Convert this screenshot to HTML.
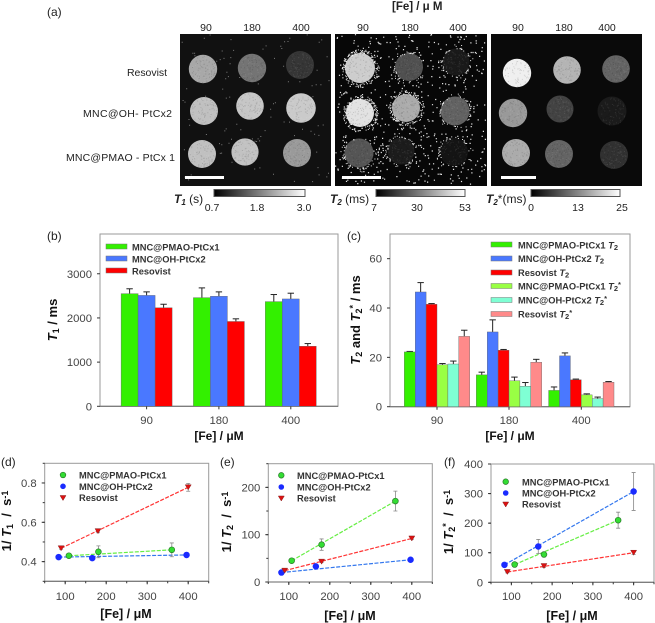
<!DOCTYPE html>
<html lang="en">
<head>
<meta charset="utf-8">
<title>MRI relaxation figure</title>
<style>
html,body{margin:0;padding:0;background:#fff;}
svg{display:block;font-family:"Liberation Sans",sans-serif;}
.lbl{font-size:10.5px;fill:#222;}
.pl{font-size:12px;fill:#222;}
.leg{font-size:9.3px;font-weight:bold;fill:#333;}
.ttl{font-size:13px;font-weight:bold;fill:#111;}
.xt{font-size:12.5px;font-weight:bold;fill:#111;}
.xs{font-size:12px;font-weight:bold;fill:#111;}
.tick{font-size:11.3px;fill:#444;}
</style>
</head>
<body>
<svg id="figure" xmlns="http://www.w3.org/2000/svg" width="655" height="623" viewBox="0 0 655 623">
<defs>
<linearGradient id="gray-ramp" x1="0" x2="1" y1="0" y2="0"><stop offset="0" stop-color="#000"/><stop offset="1" stop-color="#fff"/></linearGradient>
</defs>

<g>
<text class="pl" x="47" y="16">(a)</text>
<text x="392" y="10" font-size="11.5" font-weight="bold" fill="#222">[Fe] / μ M</text>
<text class="lbl" x="206" y="31" text-anchor="middle">90</text>
<text class="lbl" x="252" y="31" text-anchor="middle">180</text>
<text class="lbl" x="301" y="31" text-anchor="middle">400</text>
<text class="lbl" x="363" y="31" text-anchor="middle">90</text>
<text class="lbl" x="410" y="31" text-anchor="middle">180</text>
<text class="lbl" x="458" y="31" text-anchor="middle">400</text>
<text class="lbl" x="518" y="31" text-anchor="middle">90</text>
<text class="lbl" x="564" y="31" text-anchor="middle">180</text>
<text class="lbl" x="607" y="31" text-anchor="middle">400</text>
<text class="lbl" x="127" y="76" textLength="40">Resovist</text>
<text class="lbl" x="83" y="117" textLength="89">MNC@OH- PtCx2</text>
<text class="lbl" x="66" y="161" textLength="109">MNC@PMAO - PtCx 1</text>

<g id="t1-image" data-x="180" data-y="34" data-w="151" data-h="152" data-noise="130" data-op="0.45" data-size="1">
<rect x="180" y="34" width="151" height="152" fill="#111"/>
<circle class="s" cx="203" cy="69" r="14.2" fill="#a8a8a8"/>
<circle class="s" cx="252" cy="68" r="14.2" fill="#747474"/>
<circle class="s" cx="300" cy="65" r="14" fill="#363636"/>
<circle class="s" cx="204" cy="111" r="14" fill="#c0c0c0"/>
<circle class="s" cx="250" cy="106" r="13.8" fill="#c6c6c6"/>
<circle class="s" cx="301" cy="108" r="14.8" fill="#cacaca"/>
<circle class="s" cx="202" cy="154" r="14" fill="#c0c0c0"/>
<circle class="s" cx="245" cy="152" r="13.6" fill="#c2c2c2"/>
<circle class="s" cx="297" cy="153" r="14" fill="#9a9a9a"/>
<rect x="185" y="176" width="39" height="3" fill="#fff"/>
</g>

<g id="t2-image" data-x="335" data-y="34" data-w="152" data-h="152" data-noise="520" data-op="0.9" data-size="1.2">
<rect x="335" y="34" width="152" height="152" fill="#070707"/>
<circle class="s h" cx="360" cy="68" r="15" fill="#cdcdcd"/>
<circle class="s h" cx="409" cy="67" r="14" fill="#505050"/>
<circle class="s h" cx="456" cy="62" r="13.5" fill="#1a1a1a"/>
<circle class="s h" cx="360" cy="113" r="14" fill="#e2e2e2"/>
<circle class="s h" cx="406" cy="108" r="14" fill="#ababab"/>
<circle class="s h" cx="455" cy="111" r="14.5" fill="#626262"/>
<circle class="s h" cx="359" cy="153" r="14.5" fill="#555"/>
<circle class="s h" cx="401" cy="151" r="13.5" fill="#1c1c1c"/>
<circle class="s h" cx="454" cy="152" r="14" fill="#141414"/>
<rect x="342" y="176" width="39" height="3" fill="#fff"/>
</g>

<g id="t2s-image" data-x="491" data-y="34" data-w="151" data-h="152" data-noise="0" data-op="0.3" data-size="1">
<rect x="491" y="34" width="151" height="152" fill="#0a0a0a"/>
<circle class="s" cx="517" cy="73" r="14.2" fill="#efefef"/>
<circle class="s" cx="567" cy="70" r="13.8" fill="#b4b4b4"/>
<circle class="s" cx="616" cy="69" r="13.8" fill="#646464"/>
<circle class="s" cx="513" cy="113" r="14.2" fill="#999"/>
<circle class="s" cx="560" cy="109" r="13.5" fill="#434343"/>
<circle class="s" cx="612" cy="111" r="14.5" fill="#1b1b1b"/>
<circle class="s" cx="516" cy="153" r="14" fill="#ababab"/>
<circle class="s" cx="559" cy="154" r="14" fill="#646464"/>
<circle class="s" cx="614" cy="155" r="14" fill="#313131"/>
<rect x="501" y="176" width="35" height="3" fill="#fff"/>
</g>

<rect x="214" y="189.500" width="91" height="7" fill="url(#gray-ramp)" stroke="#555"/>
<rect x="376" y="189.500" width="89" height="7" fill="url(#gray-ramp)" stroke="#555"/>
<rect x="531" y="189.500" width="89" height="7" fill="url(#gray-ramp)" stroke="#555"/>
<text x="174" y="203" font-size="12" fill="#222"><tspan font-weight="bold" font-style="italic">T</tspan><tspan font-weight="bold" font-style="italic" font-size="8" dy="2">1</tspan><tspan dy="-2"> (s)</tspan></text>
<text class="lbl" x="212" y="211" text-anchor="middle">0.7</text>
<text class="lbl" x="257" y="211" text-anchor="middle">1.8</text>
<text class="lbl" x="304" y="211" text-anchor="middle">3.0</text>
<text x="330" y="203" font-size="12" fill="#222"><tspan font-weight="bold" font-style="italic">T</tspan><tspan font-weight="bold" font-style="italic" font-size="8" dy="2">2</tspan><tspan dy="-2"> (ms)</tspan></text>
<text class="lbl" x="374" y="211" text-anchor="middle">7</text>
<text class="lbl" x="417" y="211" text-anchor="middle">30</text>
<text class="lbl" x="465" y="211" text-anchor="middle">53</text>
<text x="486" y="203" font-size="12" fill="#222"><tspan font-weight="bold" font-style="italic">T</tspan><tspan font-weight="bold" font-style="italic" font-size="8" dy="2">2</tspan><tspan dy="-2">*(ms)</tspan></text>
<text class="lbl" x="531" y="211" text-anchor="middle">0</text>
<text class="lbl" x="578" y="211" text-anchor="middle">13</text>
<text class="lbl" x="622" y="211" text-anchor="middle">25</text>
</g>

<g id="chart-b">
<text class="pl" x="47" y="240">(b)</text>
<text class="ttl" transform="translate(57 320) rotate(-90)" text-anchor="middle"><tspan font-style="italic">T</tspan><tspan font-size="9" dy="2">1</tspan><tspan dy="-2"> / ms</tspan></text>
<text class="xs" x="219" y="440" text-anchor="middle">[Fe] / μM</text>
</g>
<g>
<rect x="106" y="244" width="21" height="5" fill="#33f000" stroke="#777" stroke-width=".5"/>
<text class="leg" x="132" y="250.500">MNC@PMAO-PtCx1</text>
<rect x="106" y="256" width="21" height="5" fill="#4a78ff" stroke="#777" stroke-width=".5"/>
<text class="leg" x="132" y="262.500">MNC@OH-PtCx2</text>
<rect x="106" y="268" width="21" height="5" fill="#ff0000" stroke="#777" stroke-width=".5"/>
<text class="leg" x="132" y="274.500">Resovist</text>
</g>

<g id="chart-c">
<text class="pl" x="347" y="240">(c)</text>
<text class="ttl" transform="translate(360 320) rotate(-90)" text-anchor="middle"><tspan font-style="italic">T</tspan><tspan font-size="9" dy="2">2</tspan><tspan dy="-2"> and </tspan><tspan font-style="italic">T</tspan><tspan font-size="9" dy="2">2</tspan><tspan font-size="9" dy="-6">*</tspan><tspan dy="4"> / ms</tspan></text>
<text class="xs" x="510" y="440" text-anchor="middle">[Fe] / μM</text>
</g>
<g>
<rect x="491" y="242" width="21" height="5" fill="#33f000" stroke="#777" stroke-width=".5"/>
<text class="leg" x="518" y="248.500">MNC@PMAO-PtCx1 <tspan font-style="italic">T</tspan><tspan font-size="7.500" dy="1.500">2</tspan></text>
<rect x="491" y="256" width="21" height="5" fill="#4a78ff" stroke="#777" stroke-width=".5"/>
<text class="leg" x="518" y="262">MNC@OH-PtCx2 <tspan font-style="italic">T</tspan><tspan font-size="7.500" dy="1.500">2</tspan></text>
<rect x="491" y="270" width="21" height="5" fill="#ff0000" stroke="#777" stroke-width=".5"/>
<text class="leg" x="518" y="276">Resovist <tspan font-style="italic">T</tspan><tspan font-size="7.500" dy="1.500">2</tspan></text>
<rect x="491" y="283.500" width="21" height="5" fill="#99ff44" stroke="#777" stroke-width=".5"/>
<text class="leg" x="518" y="289.500">MNC@PMAO-PtCx1 <tspan font-style="italic">T</tspan><tspan font-size="7.500" dy="1.500">2</tspan><tspan font-size="7.500" dy="-4">*</tspan></text>
<rect x="491" y="297.500" width="21" height="5" fill="#7fffd4" stroke="#777" stroke-width=".5"/>
<text class="leg" x="518" y="303.500">MNC@OH-PtCx2 <tspan font-style="italic">T</tspan><tspan font-size="7.500" dy="1.500">2</tspan><tspan font-size="7.500" dy="-4">*</tspan></text>
<rect x="491" y="311.500" width="21" height="5" fill="#ff8a8a" stroke="#777" stroke-width=".5"/>
<text class="leg" x="518" y="317.500">Resovist <tspan font-style="italic">T</tspan><tspan font-size="7.500" dy="1.500">2</tspan><tspan font-size="7.500" dy="-4">*</tspan></text>
</g>

<g id="chart-d">
<text class="pl" x="1" y="466">(d)</text>
<text class="ttl" transform="translate(11 521) rotate(-90)" text-anchor="middle">1/ <tspan font-style="italic">T</tspan><tspan font-size="9" dy="2">1</tspan><tspan dy="-2">&#160;&#160;/&#160;&#160;s</tspan><tspan font-size="9" dy="-3">-1</tspan></text>
<text class="xt" x="126" y="618" text-anchor="middle">[Fe] / μM</text>
</g>
<g id="chart-e">
<text class="pl" x="220" y="466">(e)</text>
<text class="ttl" transform="translate(231 522) rotate(-90)" text-anchor="middle">1/ <tspan font-style="italic">T</tspan><tspan font-size="9" dy="2">2</tspan><tspan dy="-2">&#160;&#160;/&#160;&#160;s</tspan><tspan font-size="9" dy="-3">-1</tspan></text>
<text class="xt" x="350" y="620" text-anchor="middle">[Fe] / μM</text>
</g>
<g id="chart-f">
<text class="pl" x="444" y="466">(f)</text>
<text class="ttl" transform="translate(453 522) rotate(-90)" text-anchor="middle">1/ <tspan font-style="italic">T</tspan><tspan font-size="9" dy="2">2</tspan><tspan font-size="9" dy="-6">*</tspan><tspan dy="4">&#160;&#160;/&#160;&#160;s</tspan><tspan font-size="9" dy="-3">-1</tspan></text>
<text class="xt" x="572" y="620" text-anchor="middle">[Fe] / μM</text>
</g>
<g>
<circle cx="63" cy="475" r="2.800" fill="#33dd33" stroke="#2a7a2a" stroke-width=".7"/>
<text class="leg" x="79" y="478.500">MNC@PMAO-PtCx1</text>
<circle cx="63" cy="486.300" r="2.800" fill="#1a2bff"/>
<text class="leg" x="79" y="490">MNC@OH-PtCx2</text>
<path d="M60 495.500h6l-3 5z" fill="#dd1111" stroke="#882222" stroke-width=".5"/>
<text class="leg" x="79" y="501">Resovist</text>
</g>
<g>
<circle cx="281.300" cy="475.300" r="2.800" fill="#33dd33" stroke="#2a7a2a" stroke-width=".7"/>
<text class="leg" x="297" y="479">MNC@PMAO-PtCx1</text>
<circle cx="281.300" cy="487" r="2.800" fill="#1a2bff"/>
<text class="leg" x="297" y="490.500">MNC@OH-PtCx2</text>
<path d="M278.300 496h6l-3 5z" fill="#dd1111" stroke="#882222" stroke-width=".5"/>
<text class="leg" x="297" y="501.500">Resovist</text>
</g>
<g>
<circle cx="505.700" cy="481.700" r="2.800" fill="#33dd33" stroke="#2a7a2a" stroke-width=".7"/>
<text class="leg" x="522" y="485.500">MNC@PMAO-PtCx1</text>
<circle cx="505.700" cy="493" r="2.800" fill="#1a2bff"/>
<text class="leg" x="522" y="496.500">MNC@OH-PtCx2</text>
<path d="M502.700 502h6l-3 5z" fill="#dd1111" stroke="#882222" stroke-width=".5"/>
<text class="leg" x="522" y="507.500">Resovist</text>
</g>
</svg>

<script>
// ---- chart data ----
const barCategories = ['90', '180', '400'];

const t1TickValues = [0, 1000, 2000, 3000];
const t1Pmao = [2550, 2460, 2370];
const t1PmaoErr = [110, 220, 160];
const t1Oh = [2510, 2490, 2430];
const t1OhErr = [80, 100, 130];
const t1Resovist = [2230, 1920, 1360];
const t1ResovistErr = [80, 60, 60];

const t2TickValues = [0, 20, 40, 60];
const t2Pmao = [22.2, 12.9, 6.6];
const t2PmaoErr = [0.2, 1.1, 1.4];
const t2Oh = [46.5, 30.3, 20.6];
const t2OhErr = [3.8, 4.9, 1.2];
const t2Resovist = [41.5, 22.9, 10.9];
const t2ResovistErr = [0.3, 0.3, 0.3];
const t2sPmao = [17, 10.5, 4.8];
const t2sPmaoErr = [0.5, 1.5, 0.4];
const t2sOh = [17.3, 8.3, 3.3];
const t2sOhErr = [1.2, 1.5, 0.6];
const t2sResovist = [28.5, 18, 9.9];
const t2sResovistErr = [2.5, 1.2, 0.3];

const rateXTicks = [100, 200, 300, 400];

const dYTicks = ['0.4', '0.6', '0.8'];
const dPmaoX = [109, 181, 360];
const dPmaoY = [0.43, 0.45, 0.46];
const dPmaoErr = [0.01, 0.03, 0.035];
const dOhX = [84, 166, 396];
const dOhY = [0.423, 0.418, 0.434];
const dOhErr = [0.005, 0.005, 0.008];
const dResX = [90, 180, 400];
const dResY = [0.468, 0.555, 0.778];
const dResErr = [0.005, 0.008, 0.02];

const eYTicks = ['0', '100', '200'];
const ePmaoX = [107, 180, 360];
const ePmaoY = [45, 79, 171];
const ePmaoErr = [3, 12, 21];
const eOhX = [82, 166, 397];
const eOhY = [20, 33, 47];
const eOhErr = [1, 2, 2];
const eResX = [90, 180, 400];
const eResY = [24, 43, 92];
const eResErr = [1, 2, 2];

const fYTicks = ['0', '100', '200', '300', '400'];
const fPmaoX = [108, 180, 362];
const fPmaoY = [60, 94, 210];
const fPmaoErr = [4, 8, 27];
const fOhX = [83, 166, 400];
const fOhY = [59, 121, 307];
const fOhErr = [3, 24, 64];
const fResX = [90, 180, 400];
const fResY = [35, 55, 100];
const fResErr = [3, 5, 6];

// ---- helpers ----
const NS = 'http://www.w3.org/2000/svg';
function mk(tag, attrs, parent) {
  const el = document.createElementNS(NS, tag);
  for (const k in attrs) el.setAttribute(k, attrs[k]);
  parent.appendChild(el);
  return el;
}

function drawFrame(g, b) {
  const el = mk('rect', {x: b.left, y: b.top, width: b.right - b.left, height: b.bottom - b.top, fill: '#fff', stroke: '#9a9a9a', 'stroke-width': 1}, g);
  
  
  const base = mk('line', {x1: b.left, x2: b.right, y1: b.bottom, y2: b.bottom, stroke: '#666', 'stroke-width': 1}, g);
  
  
}

function yTick(g, b, py, len, label) {
  const t = mk('line', {x1: b.left - len, x2: b.left, y1: py, y2: py, stroke: '#333', 'stroke-width': 1}, g);
  
  
  if (label !== null) {
    const tx = mk('text', {x: b.left - 8, y: py + 4, 'text-anchor': 'end', class: 'tick'}, g);
    tx.textContent = label;
    
    
  }
}

function xTick(g, b, px, len, label, baseY) {
  const t = mk('line', {x1: px, x2: px, y1: b.bottom, y2: b.bottom + len, stroke: '#333', 'stroke-width': 1}, g);
  
  
  if (label !== null) {
    const tx = mk('text', {x: px, y: baseY, 'text-anchor': 'middle', class: 'tick'}, g);
    tx.textContent = label;
    
    
  }
}

function drawBars(gId, b, yMax, yTicks, groupCenters, barW, series) {
  const g = document.getElementById(gId);
  const first = g.firstChild;
  const layer = document.createElementNS(NS, 'g');
  g.insertBefore(layer, first);
  
  
  const yScale = v => b.bottom - v / yMax * (b.bottom - b.top);
  drawFrame(layer, b);
  yTicks.forEach(v => yTick(layer, b, yScale(v), 3, String(v)));
  barCategories.forEach((c, i) => xTick(layer, b, groupCenters[i], 3, c, 424));
  series.forEach((s, si) => {
    s.values.forEach((v, i) => {
      const x0 = groupCenters[i] - barW * series.length / 2 + si * barW;
      const top = yScale(v);
      const errTop = yScale(v + s.err[i]);
      const cx = x0 + barW / 2;
      const stem = mk('line', {x1: cx, x2: cx, y1: top, y2: errTop, stroke: '#222', 'stroke-width': 1}, layer);
      
      
      const cap = mk('line', {x1: cx - 3.2, x2: cx + 3.2, y1: errTop, y2: errTop, stroke: '#222', 'stroke-width': 1}, layer);
      
      
      const r = mk('rect', {x: x0, y: top, width: barW, height: b.bottom - top, fill: s.color, stroke: '#666', 'stroke-width': 0.4}, layer);
      
      
    });
  });
}

function drawRate(gId, b, xs, ys, yLabels, yMinor, series) {
  const g = document.getElementById(gId);
  const first = g.firstChild;
  const layer = document.createElementNS(NS, 'g');
  g.insertBefore(layer, first);
  
  
  const xScale = v => b.left + (v - xs[0]) / (xs[1] - xs[0]) * (b.right - b.left);
  const yScale = v => b.bottom - (v - ys[0]) / (ys[1] - ys[0]) * (b.bottom - b.top);
  drawFrame(layer, b);
  yLabels.forEach(v => yTick(layer, b, yScale(parseFloat(v)), 3, v));
  for (let v = ys[0]; v <= ys[1] + 1e-9; v += yMinor) {
    yTick(layer, b, yScale(v), 2, null);
  }
  for (let v = xs[0]; v <= xs[1]; v += 50) {
    xTick(layer, b, xScale(v), 2, null, 0);
  }
  rateXTicks.forEach(v => xTick(layer, b, xScale(v), 3, String(v), 600));
  series.forEach(s => {
    const n = s.x.length - 1;
    const ln = mk('line', {x1: xScale(s.x[0]), y1: yScale(s.y[0]), x2: xScale(s.x[n]), y2: yScale(s.y[n]), stroke: s.line, 'stroke-width': 1.2, 'stroke-dasharray': '4 1.5'}, layer);
    
    
  });
  series.forEach(s => {
    s.x.forEach((xv, i) => {
      const px = xScale(xv), py = yScale(s.y[i]);
      const y1 = yScale(s.y[i] - s.err[i]), y2 = yScale(s.y[i] + s.err[i]);
      const e = mk('path', {d: 'M' + (px - 2) + ' ' + y1 + 'h4M' + px + ' ' + y1 + 'V' + y2 + 'M' + (px - 2) + ' ' + y2 + 'h4', fill: 'none', stroke: '#888', 'stroke-width': 0.8}, layer);
      
      
      let m;
      if (s.shape === 'tri') {
        m = mk('path', {d: 'M' + (px - 3) + ' ' + (py - 2.5) + 'h6l-3 5z', fill: s.color, stroke: '#882222', 'stroke-width': 0.5}, layer);
      } else {
        m = mk('circle', {cx: px, cy: py, r: 2.9, fill: s.color, stroke: s.edge, 'stroke-width': 0.7}, layer);
      }
      
      
    });
  });
}

// ---- speckle texture of the MRI maps (decorative image noise, not chart data) ----
let seed = 12345;
function rnd() { seed = (seed * 16807) % 2147483647; return seed / 2147483647; }
function dot(x, y, s) { return 'M' + x.toFixed(1) + ' ' + y.toFixed(1) + 'h' + s + 'v' + s + 'h-' + s + 'z'; }

['t1-image', 't2-image', 't2s-image'].forEach(id => {
  const g = document.getElementById(id);
  const X = +g.dataset.x, Y = +g.dataset.y, W = +g.dataset.w, H = +g.dataset.h;
  const size = +g.dataset.size, op = +g.dataset.op, count = +g.dataset.noise;
  const circles = Array.from(g.querySelectorAll('circle.s')).map(c => ({x: +c.getAttribute('cx'), y: +c.getAttribute('cy'), r: +c.getAttribute('r'), halo: c.classList.contains('h'), light: parseInt(c.getAttribute('fill').slice(1, 3), 16) > 150}));
  let d = '';
  for (let i = 0; i < count; i++) {
    const x = X + rnd() * (W - 2), y = Y + rnd() * (H - 2);
    if (circles.some(c => Math.hypot(c.x - x, c.y - y) < c.r + 1)) continue;
    d += dot(x, y, size);
  }
  circles.forEach(c => {
    if (!c.halo) return;
    const n = c.light ? 130 : 50;
    for (let i = 0; i < n; i++) {
      const a = rnd() * 6.283, rr = c.r + (c.light ? rnd() * 4 : rnd() * rnd() * 5);
      d += dot(c.x + Math.cos(a) * rr, c.y + Math.sin(a) * rr, 1);
    }
  });
  if (d) {
    const p = mk('path', {d: d, fill: '#fff', opacity: op}, g);
    
    
  }
  let gw = '', gb = '';
  circles.forEach(c => {
    for (let i = 0; i < 130; i++) {
      const a = rnd() * 6.283, rr = Math.sqrt(rnd()) * (c.r - 0.8);
      const s = dot(c.x + Math.cos(a) * rr, c.y + Math.sin(a) * rr, 1);
      if (i % 2) gw += s; else gb += s;
    }
  });
  const pw = mk('path', {d: gw, fill: '#fff', opacity: 0.09}, g);
  
  
  const pb = mk('path', {d: gb, fill: '#000', opacity: 0.13}, g);
  
  
});

// ---- draw charts ----
drawBars('chart-b', {left: 100, top: 234, right: 338, bottom: 406.3}, 3900, t1TickValues, [146.6, 218.9, 290.8], 17, [
  {values: t1Pmao, err: t1PmaoErr, color: '#33f000'},
  {values: t1Oh, err: t1OhErr, color: '#4a78ff'},
  {values: t1Resovist, err: t1ResovistErr, color: '#ff0000'}
]);

drawBars('chart-c', {left: 390, top: 234, right: 630, bottom: 406.7}, 70, t2TickValues, [437, 509, 581.3], 10.9, [
  {values: t2Pmao, err: t2PmaoErr, color: '#33f000'},
  {values: t2Oh, err: t2OhErr, color: '#4a78ff'},
  {values: t2Resovist, err: t2ResovistErr, color: '#ff0000'},
  {values: t2sPmao, err: t2sPmaoErr, color: '#99ff44'},
  {values: t2sOh, err: t2sOhErr, color: '#7fffd4'},
  {values: t2sResovist, err: t2sResovistErr, color: '#ff8a8a'}
]);

drawRate('chart-d', {left: 44.7, top: 463.3, right: 208.7, bottom: 581.3}, [50, 450], [0.3, 0.9], dYTicks, 0.1, [
  {x: dPmaoX, y: dPmaoY, err: dPmaoErr, color: '#33dd33', edge: '#2a7a2a', line: '#66ee44', shape: 'circle'},
  {x: dOhX, y: dOhY, err: dOhErr, color: '#1a2bff', edge: '#1a2bff', line: '#3377ee', shape: 'circle'},
  {x: dResX, y: dResY, err: dResErr, color: '#dd1111', edge: '#882222', line: '#ff3333', shape: 'tri'}
]);

drawRate('chart-e', {left: 268.3, top: 463.7, right: 432.3, bottom: 582}, [50, 450], [0, 250], eYTicks, 50, [
  {x: ePmaoX, y: ePmaoY, err: ePmaoErr, color: '#33dd33', edge: '#2a7a2a', line: '#66ee44', shape: 'circle'},
  {x: eOhX, y: eOhY, err: eOhErr, color: '#1a2bff', edge: '#1a2bff', line: '#3377ee', shape: 'circle'},
  {x: eResX, y: eResY, err: eResErr, color: '#dd1111', edge: '#882222', line: '#ff3333', shape: 'tri'}
]);

drawRate('chart-f', {left: 491, top: 464, right: 654, bottom: 582.3}, [50, 450], [0, 400], fYTicks, 100, [
  {x: fPmaoX, y: fPmaoY, err: fPmaoErr, color: '#33dd33', edge: '#2a7a2a', line: '#66ee44', shape: 'circle'},
  {x: fOhX, y: fOhY, err: fOhErr, color: '#1a2bff', edge: '#1a2bff', line: '#3377ee', shape: 'circle'},
  {x: fResX, y: fResY, err: fResErr, color: '#dd1111', edge: '#882222', line: '#ff3333', shape: 'tri'}
]);
</script>
</body>
</html>
